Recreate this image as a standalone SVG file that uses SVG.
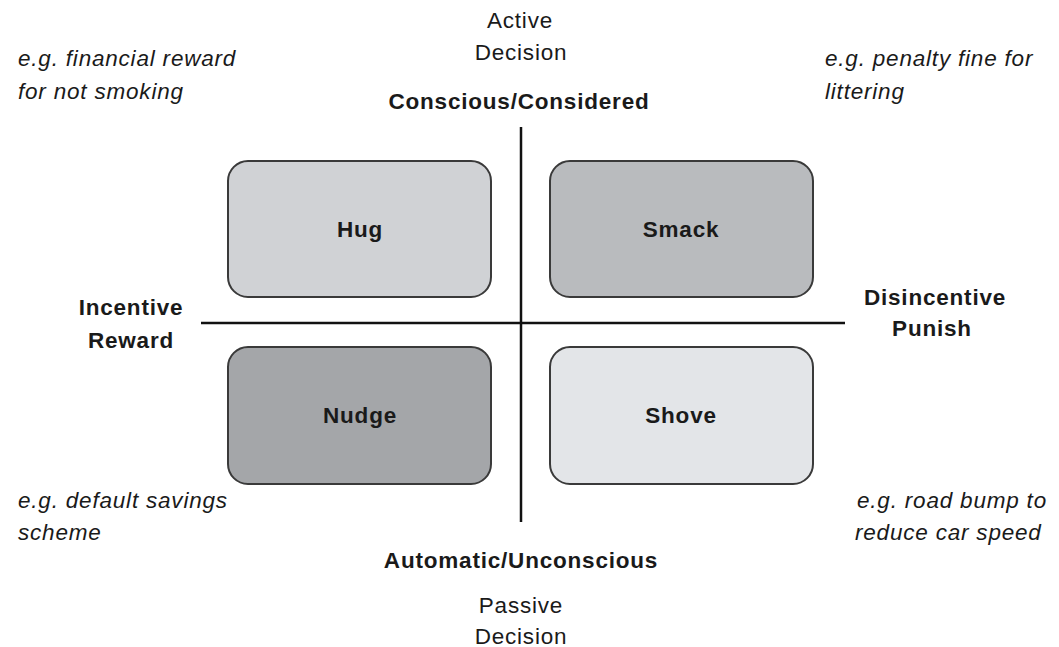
<svg xmlns="http://www.w3.org/2000/svg" width="1059" height="647" viewBox="0 0 1059 647">
<style>
text{font-family:"Liberation Sans",Arial,sans-serif;font-size:22.5px;letter-spacing:0.8px;fill:#1a1a1a}
.b{font-weight:bold}
.i{font-style:italic}
.m{text-anchor:middle}
.box{stroke:#3a3a3a;stroke-width:2}
.ax{stroke:#111;stroke-width:2.5}
</style>
<rect width="1059" height="647" fill="#fff"/>
<g id="connectors">
<line class="ax" x1="521" y1="127" x2="521" y2="522"/>
<line class="ax" x1="201" y1="323" x2="845" y2="323"/>
</g>
<g id="hug"><rect class="box" x="228" y="161" width="263" height="136" rx="20" fill="#d0d2d5"/><text class="b m" x="360" y="237">Hug</text></g>
<g id="smack"><rect class="box" x="550" y="161" width="263" height="136" rx="20" fill="#b9bbbe"/><text class="b m" x="681" y="237">Smack</text></g>
<g id="nudge"><rect class="box" x="228" y="347" width="263" height="137" rx="20" fill="#a4a6a9"/><text class="b m" x="360" y="423">Nudge</text></g>
<g id="shove"><rect class="box" x="550" y="347" width="263" height="137" rx="20" fill="#e3e5e8"/><text class="b m" x="681" y="423">Shove</text></g>
<g id="labels">
<text class="m" x="520" y="28">Active</text>
<text class="m" x="521" y="60">Decision</text>
<text class="b m" x="519" y="109">Conscious/Considered</text>
<text class="b m" x="521" y="568">Automatic/Unconscious</text>
<text class="m" x="521" y="613">Passive</text>
<text class="m" x="521" y="644">Decision</text>
<text class="b m" x="131" y="315">Incentive</text>
<text class="b m" x="131" y="348">Reward</text>
<text class="b m" x="935" y="305">Disincentive</text>
<text class="b m" x="932" y="336">Punish</text>
<text class="i" x="18" y="66">e.g. financial reward</text>
<text class="i" x="18" y="99">for not smoking</text>
<text class="i" x="825" y="66">e.g. penalty fine for</text>
<text class="i" x="825" y="99">littering</text>
<text class="i" x="18" y="508">e.g. default savings</text>
<text class="i" x="18" y="540">scheme</text>
<text class="i" x="857" y="508">e.g. road bump to</text>
<text class="i" x="855" y="540">reduce car speed</text>
</g>
</svg>
